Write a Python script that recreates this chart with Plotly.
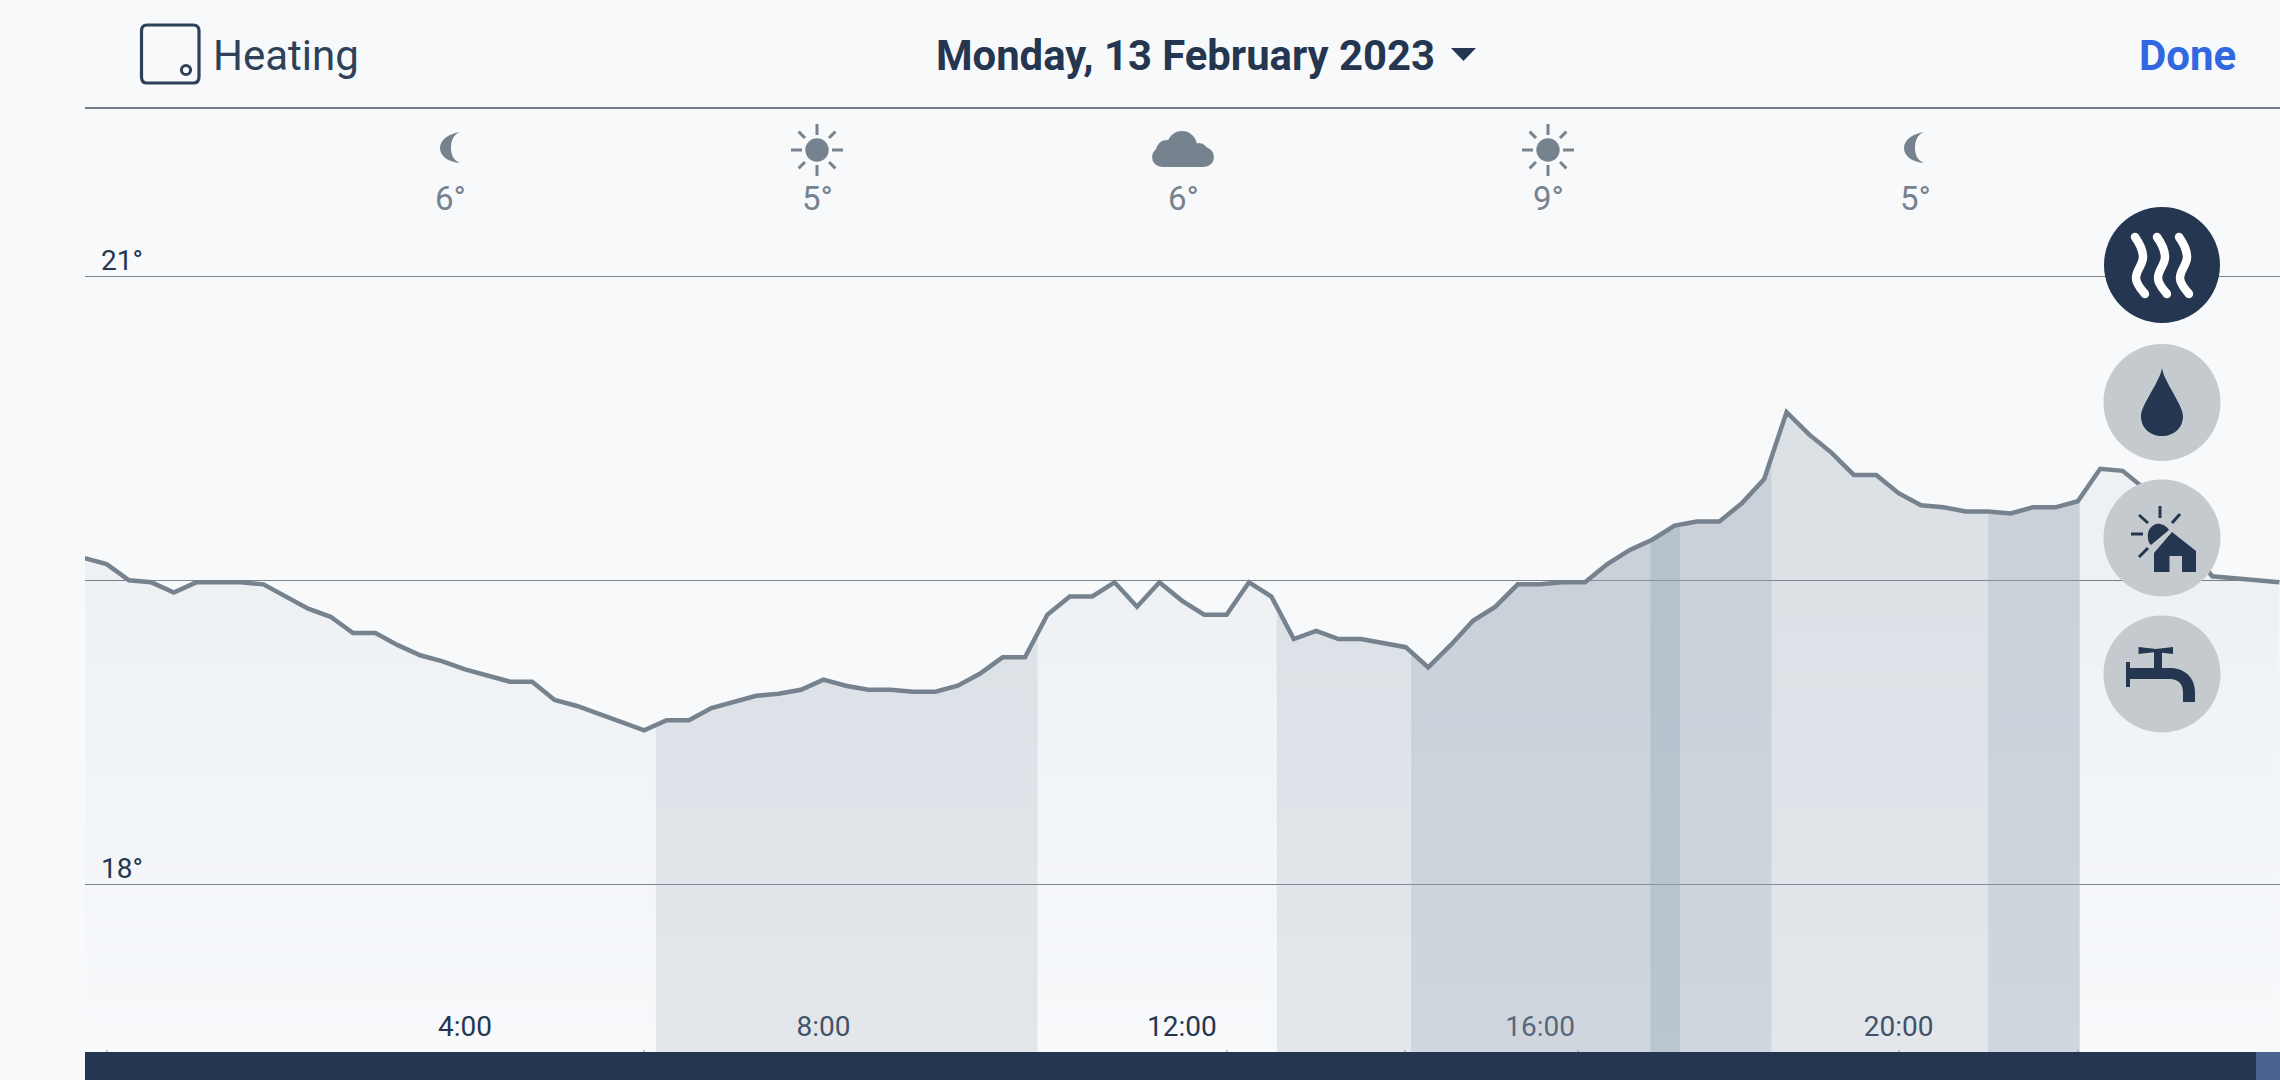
import numpy as np
import plotly.graph_objects as go

# ---------- data ----------
hours = [h / 4 for h in range(-1, 98)]
temperature = [
    19.61, 19.58, 19.50, 19.49, 19.44, 19.49, 19.49, 19.49, 19.48, 19.42,
    19.36, 19.32, 19.24, 19.24, 19.18, 19.13, 19.10, 19.06, 19.03, 19.00,
    19.00, 18.91, 18.88, 18.84, 18.80, 18.76, 18.81, 18.81, 18.87, 18.90,
    18.93, 18.94, 18.96, 19.01, 18.98, 18.96, 18.96, 18.95, 18.95, 18.98,
    19.04, 19.12, 19.12, 19.33, 19.42, 19.42, 19.49, 19.37, 19.49, 19.40,
    19.33, 19.33, 19.49, 19.42, 19.21, 19.25, 19.21, 19.21, 19.19, 19.17,
    19.07, 19.18, 19.30, 19.37, 19.48, 19.48, 19.49, 19.49, 19.58, 19.65,
    19.70, 19.77, 19.79, 19.79, 19.88, 20.00, 20.33, 20.22, 20.13, 20.02,
    20.02, 19.93, 19.87, 19.86, 19.84, 19.84, 19.83, 19.86, 19.86, 19.89,
    20.05, 20.04, 19.95, 19.84, 19.67, 19.52, 19.51, 19.50, 19.49,
]
heating_level_1 = [(6.13, 10.39), (13.06, 22.02)]
heating_level_2 = [(14.56, 18.58), (21.0, 22.02)]
heating_level_3 = [(17.23, 17.56)]
hour_ticks = [4, 8, 12, 16, 20]
hour_labels = ["4:00", "8:00", "12:00", "16:00", "20:00"]
temp_ticks = [18, 19.5, 21]
temp_labels = ["18°", "", "21°"]
weather_hours = ["6°", "5°", "6°", "9°", "5°"]
title_text = "Monday, 13 February 2023"

# ---------- layout constants (pixels) ----------
W, H = 2280, 1080
LEFT, TOP, BOTTOM = 85, 108, 1052
X_RANGE = [4 + (LEFT - 465) / 89.6, 4 + (W - 465) / 89.6]
Y_RANGE = [19.5 + (580.3 - BOTTOM) / 202.67, 19.5 + (580.3 - TOP) / 202.67]

DARK = "#243650"
GREY = "#76838F"
BADGE = "#C5CACF"
BG = "#F7F9FB"


def px(x):
    return x / W


def py(y):
    return 1 - y / H


def path(s):
    out, is_x = [], True
    for tok in s.split():
        if tok.isalpha():
            out.append(tok)
            is_x = True
        else:
            v = float(tok)
            out.append(f"{px(v):.6f}" if is_x else f"{py(v):.6f}")
            is_x = not is_x
    return " ".join(out)


shapes = []


def add_path(s, fill=None, line=None, lw=0):
    shapes.append(dict(type="path", xref="paper", yref="paper", path=path(s),
                       fillcolor=fill if fill else "rgba(0,0,0,0)",
                       line=dict(color=line if line else "rgba(0,0,0,0)", width=lw),
                       layer="above"))


def add_circle(cx, cy, r, fill=None, line=None, lw=0):
    shapes.append(dict(type="circle", xref="paper", yref="paper",
                       x0=px(cx - r), x1=px(cx + r), y0=py(cy + r), y1=py(cy - r),
                       fillcolor=fill if fill else "rgba(0,0,0,0)",
                       line=dict(color=line if line else "rgba(0,0,0,0)", width=lw),
                       layer="above"))


def add_rect(x0, y0, x1, y1, fill):
    shapes.append(dict(type="rect", xref="paper", yref="paper",
                       x0=px(x0), x1=px(x1), y0=py(y1), y1=py(y0),
                       fillcolor=fill, line=dict(width=0), layer="above"))


def add_seg(x0, y0, x1, y1, color, lw):
    shapes.append(dict(type="line", xref="paper", yref="paper",
                       x0=px(x0), x1=px(x1), y0=py(y0), y1=py(y1),
                       line=dict(color=color, width=lw), layer="above"))


# ---------- traces ----------
fig = go.Figure()
hx = np.array(hours)
ty = np.array(temperature)
base_y = Y_RANGE[0]


def area(x0, x1):
    inside = (hx > x0) & (hx < x1)
    xs = [x0] + hx[inside].tolist() + [x1]
    ys = [float(np.interp(x0, hx, ty))] + ty[inside].tolist() + [float(np.interp(x1, hx, ty))]
    return [x0] + xs + [x1, x0], [base_y] + ys + [base_y, base_y]


bx, by = area(hours[0], hours[-1])
fig.add_trace(go.Scatter(
    x=bx, y=by, mode="none", fill="toself", hoverinfo="skip", showlegend=False,
    fillgradient=dict(type="vertical", start=19.5, stop=base_y,
                      colorscale=[[0, "rgba(36,54,80,0.042)"], [1, "rgba(36,54,80,0.0)"]]),
))
for periods, colour in [(heating_level_1, "rgba(158,172,184,0.23)"),
                        (heating_level_2, "rgba(150,165,180,0.26)"),
                        (heating_level_3, "rgba(140,160,175,0.30)")]:
    for a, b in periods:
        x_, y_ = area(a, b)
        fig.add_trace(go.Scatter(x=x_, y=y_, mode="none", fill="toself",
                                 fillcolor=colour, hoverinfo="skip", showlegend=False))
fig.add_trace(go.Scatter(x=hours, y=temperature, mode="lines", showlegend=False,
                         line=dict(color=GREY, width=4.5, shape="linear")))

# ---------- chrome ----------
add_path(f"M 147 25 L 193 25 Q 199 25 199 31 L 199 77 Q 199 83 193 83 L 147 83 Q 141.5 83 141.5 77 L 141.5 31 Q 141.5 25 147 25 Z",
         line="#2E4159", lw=3.2)
add_circle(186, 70, 4.6, line="#2E4159", lw=3)
add_path("M 1451 48 L 1476 48 L 1463.5 61 Z", fill=DARK)
add_seg(LEFT, 108, W, 108, "#767C86", 2)

add_rect(LEFT, BOTTOM, W, H, DARK)
add_rect(2256, BOTTOM, W, H, "#4A6391")
for tx in [107, 644, 1227, 1405, 1578, 1899, 2078]:
    add_seg(tx, BOTTOM - 2, tx, BOTTOM, "#8A94A0", 1)


# weather icons
def moon(dx):
    add_path(f"M {460+dx} 132 C {448+dx} 134 {440+dx} 140 {440+dx} 148 C {440+dx} 156 {448+dx} 162 {460+dx} 163 "
             f"C {453+dx} 160 {451+dx} 154 {451+dx} 148 C {451+dx} 141 {453+dx} 135 {460+dx} 132 Z", fill=GREY)


def sun(cx, cy):
    add_circle(cx, cy, 11.7, fill=GREY)
    for ang in range(0, 360, 45):
        c, s = np.cos(np.radians(ang)), np.sin(np.radians(ang))
        r0, r1 = (15, 26) if ang % 90 == 0 else (17, 26)
        add_seg(cx + r0 * c, cy + r0 * s, cx + r1 * c, cy + r1 * s, GREY, 3)


moon(0)
sun(817, 150)
add_circle(1182, 146, 15, fill=GREY)
add_circle(1162, 157, 10, fill=GREY)
add_circle(1204, 157, 10, fill=GREY)
add_circle(1167, 151, 11, fill=GREY)
add_circle(1199, 152, 9, fill=GREY)
add_rect(1162, 150, 1204, 167, GREY)
sun(1548, 150)
moon(1464)

# badges
add_circle(2162, 265, 58, fill=DARK)
for dx in (0, 22, 44):
    add_path(f"M {2135+dx} 237 C {2140+dx} 244 {2143+dx} 250 {2143+dx} 257 C {2143+dx} 265 {2136+dx} 270 {2136+dx} 278 C {2136+dx} 284 {2141+dx} 289 {2145+dx} 294",
             line="#FFFFFF", lw=8.5)
    add_circle(2135 + dx, 237, 4.2, fill="#FFFFFF")
    add_circle(2145 + dx, 294, 4.2, fill="#FFFFFF")

add_circle(2162, 402.5, 58.5, fill=BADGE)
add_path("M 2162 368 C 2160 382 2141 405 2141 416 C 2141 428 2150 436 2162 436 C 2174 436 2183 428 2183 416 C 2183 405 2164 382 2162 368 Z",
         fill=DARK)

add_circle(2162, 538, 58.5, fill=BADGE)
add_path("M 2172 532 L 2196 551 L 2196 572 L 2154 572 L 2154 553 Z", fill=DARK)
add_rect(2169.5, 556, 2182, 572, BADGE)
add_path("M 2169 530 C 2166 525 2160 523 2156 524 C 2150 526 2147 532 2148 538 C 2148 541 2149 543 2151 545 Z", fill=DARK)
add_seg(2160, 506, 2160, 518, DARK, 3)
add_seg(2131, 534, 2143, 534, DARK, 3)
add_seg(2139, 515, 2148, 523, DARK, 3)
add_seg(2180, 514, 2172, 523, DARK, 3)
add_seg(2139, 557, 2148, 548, DARK, 3)

add_circle(2162, 674, 58.5, fill=BADGE)
add_path("M 2138.5 647 L 2156 649 L 2173 647 L 2173 654 L 2156 652 L 2138.5 654 Z", fill=DARK)
add_rect(2154, 650, 2162, 670, DARK)
add_path("M 2130 668 L 2170 668 C 2185 668 2195 678 2195 692 L 2195 702 L 2183 702 L 2183 692 C 2183 684 2178 679 2170 679 L 2130 679 Z",
         fill=DARK)
add_rect(2126, 662, 2130, 687, DARK)

# ---------- text ----------
ann = []


def text(x, y, s, size, color, anchor="left", weight=400):
    ann.append(dict(xref="paper", yref="paper", x=px(x), y=py(y), text=s, showarrow=False,
                    xanchor=anchor, yanchor="middle", borderpad=0,
                    font=dict(family="Roboto", size=size, color=color, weight=weight)))


text(212, 56, "Heating", 42, "#2E4159")
text(935, 56, title_text, 41.8, DARK, weight=700)
text(2237, 55, "Done", 42, "#2F68E1", anchor="right", weight=700)
for x, s in zip([450.5, 817, 1183, 1548, 1915], weather_hours):
    text(x, 198, s, 33, GREY, anchor="center", weight=400)

fig.update_layout(
    width=W, height=H, autosize=False,
    margin=dict(l=0, r=0, t=0, b=0, pad=0),
    paper_bgcolor=BG, plot_bgcolor=BG,
    showlegend=False,
    shapes=shapes, annotations=ann,
    xaxis=dict(domain=[LEFT / W, 1], range=X_RANGE, tickvals=hour_ticks, ticktext=hour_labels,
               showgrid=False, zeroline=False, showline=False, ticks="", ticklabelposition="inside",
               ticklabelstandoff=7,
               tickfont=dict(family="Roboto", size=28, color=DARK), layer="below traces",
               anchor="y", fixedrange=True),
    yaxis=dict(domain=[1 - BOTTOM / H, 1 - TOP / H], range=Y_RANGE, tickvals=temp_ticks, ticktext=temp_labels,
               showgrid=True, gridcolor="#7C828C", gridwidth=1.3, zeroline=False, showline=False,
               ticks="", ticklabelposition="inside top", ticklabelstandoff=13, ticklabelshift=3,
               tickfont=dict(family="Roboto", size=28, color=DARK), layer="below traces",
               anchor="x", fixedrange=True),
)
fig.write_html("out.html", config=dict(displayModeBar=False),
               post_script="document.body.style.margin='0';document.body.style.overflow='hidden';")
